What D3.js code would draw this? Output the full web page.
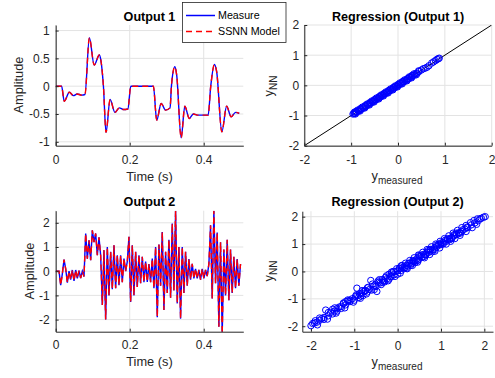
<!DOCTYPE html>
<html><head><meta charset="utf-8">
<script src="https://cdn.jsdelivr.net/npm/d3@7"></script>
<style>html,body{margin:0;padding:0;background:#fff;} svg{display:block;font-family:"Liberation Sans",Arial,sans-serif;}</style>
</head><body><svg id="chart" width="495" height="378"></svg>
<script>
// ---------- data ----------
const time1 = [0,0.016,0.023,0.037,0.048,0.058,0.07,0.079,0.091,0.104,0.118,0.122,0.129,0.136,0.147,0.16,0.172,0.183,0.195,0.203,0.264,0.273,0.285,0.297,0.309,0.313,0.322,0.327,0.339,0.349,0.361,0.372,0.385,0.412,0.419,0.429,0.435,0.449,0.462,0.474,0.486,0.496];
const measure1 = [0,0,-0.27,-0.11,-0.17,-0.14,-0.16,-0.15,0.87,0.38,0.56,0.47,0,-0.83,-0.24,-0.47,-0.39,-0.42,-0.41,0,0,-0.61,-0.31,-0.43,-0.39,0.02,0.35,0.2,-0.93,-0.36,-0.58,-0.5,-0.52,-0.52,0,0.39,0.26,-0.82,-0.36,-0.55,-0.47,-0.49];
const model1 = [0,0,-0.27,-0.11,-0.17,-0.14,-0.16,-0.15,0.87,0.38,0.56,0.47,0,-0.83,-0.24,-0.47,-0.39,-0.42,-0.41,0,0,-0.61,-0.31,-0.43,-0.39,0.02,0.35,0.2,-0.93,-0.36,-0.58,-0.5,-0.52,-0.52,0,0.39,0.26,-0.82,-0.36,-0.55,-0.47,-0.49];

const sampleStep2 = 0.0045;
const measure2 = [0,0,0,-0.58,-0.1,0.48,0.1,-0.47,0,-0.35,0.05,-0.4,0.05,-0.3,0.02,-0.28,0,-0.22,1.56,0.52,1.28,0.45,1.69,1.2,1.56,0.66,1.4,0.66,-1.4,0.87,-2.0,1.0,-1.0,0.8,-0.74,1.07,-0.7,0.66,-0.58,0.66,-0.45,0.52,0,0.4,1.42,-1.27,1.07,-1.0,0.8,-0.65,0.66,-0.5,0.6,-0.45,0.4,-0.44,0.3,-0.45,0.52,-0.7,1.0,-1.9,1.1,-0.6,1.62,-1.6,0.8,-0.9,1.3,-1.1,1.97,-0.8,2.5,-1.33,1.0,-1.96,1.0,-0.9,0.8,-0.6,0.5,-0.35,0.3,-0.3,0.1,-0.3,0.05,-0.35,0.1,-0.3,0.05,-0.2,0.3,1.9,-1.13,2.5,-0.5,1.6,-2.3,1.2,-2.6,0.9,-1.0,1.3,-1.2,0.9,-0.9,0.6,-0.7,0.5,-0.6,0.3];
const model2 = measure2.slice();
const time2 = measure2.map((_, i) => i * sampleStep2);

const reg1Measured = [-0.96,-0.94,-0.92,-0.9,-0.88,-0.85,-0.83,-0.8,-0.78,-0.75,-0.73,-0.7,-0.68,-0.65,-0.62,-0.6,-0.57,-0.55,-0.52,-0.5,-0.47,-0.45,-0.42,-0.4,-0.37,-0.35,-0.32,-0.3,-0.27,-0.25,-0.22,-0.2,-0.17,-0.15,-0.12,-0.1,-0.07,-0.05,-0.02,0,0.03,0.05,0.08,0.1,0.13,0.15,0.18,0.2,0.23,0.26,0.29,0.32,0.35,0.38,0.41,0.45,0.5,0.54,0.58,0.62,0.66,0.72,0.76,0.8,0.83,0.86,0.88,
  -0.9,-0.8,-0.7,-0.6,-0.5,-0.4,-0.3,-0.2,-0.1,0.0,0.1,0.2,0.3,
  -0.93,-0.86,-0.76,-0.66,-0.56,-0.46,-0.36,-0.26,-0.16,-0.06,0.04,0.14,0.24,0.34,0.44,
  -0.91,-0.81,-0.71,-0.61,-0.51,-0.41,-0.31,-0.21,-0.11,-0.01,0.09,0.19,0.29,0.39];
const reg1Model = [-0.95,-0.93,-0.93,-0.88,-0.89,-0.84,-0.84,-0.79,-0.79,-0.74,-0.74,-0.69,-0.69,-0.64,-0.63,-0.59,-0.58,-0.54,-0.53,-0.49,-0.48,-0.44,-0.43,-0.39,-0.38,-0.34,-0.33,-0.29,-0.28,-0.24,-0.23,-0.19,-0.18,-0.14,-0.13,-0.09,-0.08,-0.04,-0.03,0.01,0.02,0.06,0.07,0.11,0.12,0.16,0.17,0.21,0.22,0.27,0.28,0.33,0.34,0.39,0.4,0.46,0.51,0.55,0.57,0.6,0.65,0.74,0.78,0.82,0.86,0.88,0.9,
  -0.87,-0.77,-0.67,-0.57,-0.47,-0.37,-0.27,-0.17,-0.07,0.03,0.13,0.22,0.33,
  -0.89,-0.82,-0.72,-0.62,-0.52,-0.42,-0.32,-0.22,-0.12,-0.02,0.08,0.18,0.28,0.38,0.48,
  -0.95,-0.85,-0.75,-0.65,-0.55,-0.45,-0.35,-0.25,-0.15,-0.05,0.05,0.15,0.25,0.35];

const reg2Measured = [-2.0,-1.96,-1.92,-1.86,-1.8,-1.75,-1.7,-1.66,-1.6,-1.55,-1.5,-1.46,-1.4,-1.35,-1.3,-1.25,-1.2,-1.15,-1.1,-1.05,-0.94,-0.97,-0.92,-0.88,-0.83,-0.78,-0.74,-0.7,-0.65,-0.62,-0.56,-0.52,-0.48,-0.44,-0.4,-0.36,-0.32,-0.28,-0.24,-0.2,-0.16,-0.12,-0.08,-0.04,0.0,0.04,0.08,0.12,0.16,0.2,0.24,0.28,0.32,0.36,0.4,0.44,0.48,0.52,0.56,0.6,0.64,0.68,0.72,0.76,0.8,0.85,0.9,0.95,1.0,1.05,1.1,1.15,1.2,1.25,1.3,1.36,1.42,1.48,1.55,1.62,1.7,1.78,1.86,1.93,1.98,2.02,
  -1.7,-1.5,-1.3,-1.2,-1.0,-0.9,-0.8,-0.7,-0.6,-0.5,-0.45,-0.3,-0.2,-0.1,0.0,0.1,0.2,0.25,0.3,0.4,0.5,0.6,0.7,0.8,0.9,1.0,1.1,1.2,1.3,1.4,1.5,1.6,1.9,
  -1.4,-1.1,-0.85,-0.75,-0.35,-0.15,0.05,0.15,0.35,0.45,0.55,0.65,0.75,0.85,0.95,1.05,1.15,1.25,1.35,1.45,
  -1.9,-1.8,-1.6,-1.45,-1.25,-1.15,-0.95,-0.82,-0.68,-0.58,-0.42,-0.26,-0.14,-0.02,0.08,0.18,0.28,0.38,0.48,0.58,0.68,0.78,0.88,0.98,1.08,1.18,1.28,1.38,1.48,1.58,1.68,1.76,1.84,
  -1.85,-1.62,-1.42,-1.22,-1.02,-0.86,-0.72,-0.54,-0.38,-0.22,-0.06,0.06,0.22,0.34,0.46,0.62,0.74,0.86,0.97,1.12,1.22,1.32,1.44,1.58,1.72,1.82];
const reg2Model = [-1.98,-1.9,-1.88,-1.85,-1.78,-1.72,-1.68,-1.41,-1.62,-1.5,-1.38,-1.45,-1.36,-1.3,-1.28,-1.18,-1.22,-1.08,-1.1,-1.0,-0.61,-0.9,-0.88,-0.82,-0.8,-0.72,-0.7,-0.6,-0.66,-0.33,-0.55,-0.5,-0.73,-0.4,-0.42,-0.3,-0.34,-0.22,-0.26,-0.1,-0.18,-0.05,-0.12,0.0,0.02,0.12,0.04,0.15,0.14,0.22,0.2,0.3,0.28,0.38,0.38,0.46,0.42,0.55,0.52,0.62,0.62,0.7,0.7,0.8,0.78,0.86,0.9,0.96,0.98,1.06,1.08,1.16,1.2,1.24,1.3,1.35,1.42,1.46,1.55,1.6,1.7,1.77,1.85,1.94,1.98,2.0,
  -1.75,-1.55,-1.35,-1.1,-1.05,-0.95,-0.88,-0.75,-0.68,-0.55,-0.35,-0.38,-0.28,0.0,-0.1,0.22,0.12,0.3,0.22,0.32,0.58,0.54,0.76,0.72,0.96,1.04,1.14,1.16,1.34,1.38,1.52,1.62,1.92,
  -1.45,-1.05,-0.9,-0.7,-0.4,-0.2,0.1,0.1,0.4,0.4,0.6,0.6,0.8,0.8,1.0,1.0,1.2,1.2,1.4,1.4,
  -1.8,-1.7,-1.5,-1.33,-1.15,-1.04,-0.85,-0.7,-0.58,-0.46,-0.3,-0.16,-0.02,0.1,0.2,0.3,0.4,0.5,0.6,0.7,0.8,0.9,1.0,1.1,1.2,1.3,1.4,1.5,1.6,1.68,1.78,1.86,1.92,
  -1.95,-1.74,-1.52,-1.33,-1.12,-0.98,-0.82,-0.66,-0.48,-0.34,-0.18,-0.06,0.1,0.22,0.34,0.5,0.62,0.74,0.86,1.0,1.1,1.2,1.32,1.46,1.6,1.72];

const timeTicks = [0, 0.2, 0.4];
const amp1Ticks = [-1, -0.5, 0, 0.5, 1];
const amp2Ticks = [-2, -1, 0, 1, 2];
const regTicks = [-2, -1, 0, 1, 2];
const refLine = [-2, 2];
const legendLabels = ["Measure", "SSNN Model"];
const titles = ["Output 1", "Regression (Output 1)", "Output 2", "Regression (Output 2)"];

// ---------- drawing ----------
const svg = d3.select('#chart');
svg.append('rect').attr('width', 495).attr('height', 378).attr('fill', '#fff');
const AX = '#262626', GRID = '#e3e3e3';
const fmt = d => String(d);

function panel(p) {
  const g = svg.append('g');
  const x = d3.scaleLinear().domain(p.xd).range([p.l, p.r]);
  const y = d3.scaleLinear().domain(p.yd).range([p.b, p.t]);
  g.append('g').selectAll('line').data(p.xt).join('line')
    .attr('x1', d => x(d)).attr('x2', d => x(d)).attr('y1', p.t).attr('y2', p.b)
    .attr('stroke', GRID).attr('stroke-width', 1);
  g.append('g').selectAll('line').data(p.yt).join('line')
    .attr('y1', d => y(d)).attr('y2', d => y(d)).attr('x1', p.l).attr('x2', p.r)
    .attr('stroke', GRID).attr('stroke-width', 1);
  const cid = 'clip' + p.id;
  svg.append('clipPath').attr('id', cid).append('rect')
    .attr('x', p.l).attr('y', p.t).attr('width', p.r - p.l).attr('height', p.b - p.t);
  const plot = g.append('g').attr('clip-path', `url(#${cid})`);
  const xa = g.append('g').attr('transform', `translate(0,${p.b})`)
    .call(d3.axisBottom(x).tickValues(p.xt).tickFormat(fmt).tickSizeInner(-3).tickSizeOuter(0).tickPadding(p.xpad));
  const ya = g.append('g').attr('transform', `translate(${p.l},0)`)
    .call(d3.axisLeft(y).tickValues(p.yt).tickFormat(fmt).tickSizeInner(-3).tickSizeOuter(0).tickPadding(p.ypad));
  [xa, ya].forEach(a => {
    a.attr('font-family', null).attr('font-size', 12);
    a.select('.domain').attr('stroke', AX);
    a.selectAll('.tick line').attr('stroke', AX);
    a.selectAll('text').attr('fill', AX);
  });
  g.append('text').attr('x', (p.l + p.r) / 2).attr('y', p.titleY)
    .attr('text-anchor', 'middle').attr('font-weight', 'bold').attr('font-size', 12.6)
    .attr('fill', '#000').text(p.title);
  return { x, y, plot, g };
}

function timeLabels(g, cx, by, ax, ay) {
  g.append('text').attr('x', cx).attr('y', by).attr('text-anchor', 'middle')
    .attr('font-size', 12.8).attr('fill', AX).text('Time (s)');
  g.append('text').attr('transform', `translate(${ax},${ay}) rotate(-90)`).attr('text-anchor', 'middle')
    .attr('font-size', 12.8).attr('fill', AX).text('Amplitude');
}
function regLabels(g, cx, by, ax, ay) {
  const t = g.append('text').attr('x', cx).attr('y', by).attr('text-anchor', 'middle')
    .attr('font-size', 12.8).attr('fill', AX);
  t.append('tspan').text('y');
  t.append('tspan').attr('font-size', 10).attr('dy', 4).text('measured');
  const u = g.append('text').attr('transform', `translate(${ax},${ay}) rotate(-90)`).attr('text-anchor', 'middle')
    .attr('font-size', 12.8).attr('fill', AX);
  u.append('tspan').text('y');
  u.append('tspan').attr('font-size', 10).attr('dy', 3.5).text('NN');
}
function series(P, times, meas, mod, curve) {
  const line = d3.line().x((d, i) => P.x(times[i])).y(d => P.y(d)).curve(curve);
  P.plot.append('path').attr('d', line(meas)).attr('fill', 'none').attr('stroke', '#0000ff').attr('stroke-width', 1.4);
  P.plot.append('path').attr('d', line(mod)).attr('fill', 'none').attr('stroke', '#ff0000').attr('stroke-width', 1.4).attr('stroke-dasharray', '6,4');
}
function scatter(P, xs, ys) {
  P.plot.append('g').selectAll('circle').data(xs).join('circle')
    .attr('cx', d => P.x(d)).attr('cy', (d, i) => P.y(ys[i])).attr('r', 3.2)
    .attr('fill', 'none').attr('stroke', '#0000ff').attr('stroke-width', 1);
}

// Panel 1
const P1 = panel({ id: 1, l: 55.7, r: 243.3, t: 25, b: 145.7, xd: [0, 0.507], yd: [-1.07, 1.1],
  xt: timeTicks, yt: amp1Ticks, xpad: 10, ypad: 6, title: titles[0], titleY: 21 });
series(P1, time1, measure1, model1, d3.curveMonotoneX);
timeLabels(P1.g, 149.5, 180.5, 22.5, 85);

// Panel 2
const P2 = panel({ id: 2, l: 304.3, r: 491.7, t: 25, b: 145.7, xd: [-2, 2], yd: [-2, 2],
  xt: regTicks, yt: regTicks, xpad: 9.5, ypad: 5, title: titles[1], titleY: 20.7 });
P2.plot.append('line').attr('x1', P2.x(refLine[0])).attr('y1', P2.y(refLine[0]))
  .attr('x2', P2.x(refLine[1])).attr('y2', P2.y(refLine[1])).attr('stroke', '#000').attr('stroke-width', 1);
scatter(P2, reg1Measured, reg1Model);
regLabels(P2.g, 397, 180, 273, 86);

// Panel 3
const P3 = panel({ id: 3, l: 55.7, r: 243.3, t: 210.7, b: 331.7, xd: [0, 0.507], yd: [-2.5, 2.5],
  xt: timeTicks, yt: amp2Ticks, xpad: 9, ypad: 6, title: titles[2], titleY: 205.7 });
series(P3, time2, measure2, model2, d3.curveLinear);
timeLabels(P3.g, 149.5, 365.8, 34.2, 271);

// Panel 4
const P4 = panel({ id: 4, l: 302.3, r: 493, t: 211.2, b: 331.7, xd: [-2.2, 2.2], yd: [-2.2, 2.2],
  xt: regTicks, yt: regTicks, xpad: 10, ypad: 4, title: titles[3], titleY: 205.7 });
scatter(P4, reg2Measured, reg2Model);
regLabels(P4.g, 397, 366, 273, 271);

// Legend
const lg = svg.append('g');
lg.append('rect').attr('x', 182.5).attr('y', 2.5).attr('width', 103.5).attr('height', 40)
  .attr('fill', '#fff').attr('stroke', AX).attr('stroke-width', 0.8);
const legendStyles = [{ c: '#0000ff', dash: null }, { c: '#ff0000', dash: '6,4' }];
legendLabels.forEach((lab, i) => {
  const cy = 15.5 + i * 16;
  lg.append('line').attr('x1', 186).attr('x2', 215).attr('y1', cy).attr('y2', cy)
    .attr('stroke', legendStyles[i].c).attr('stroke-width', 1.5).attr('stroke-dasharray', legendStyles[i].dash);
  lg.append('text').attr('x', 218).attr('y', cy + 3.6).attr('font-size', 10.7).attr('fill', '#000').text(lab);
});
</script></body></html>
